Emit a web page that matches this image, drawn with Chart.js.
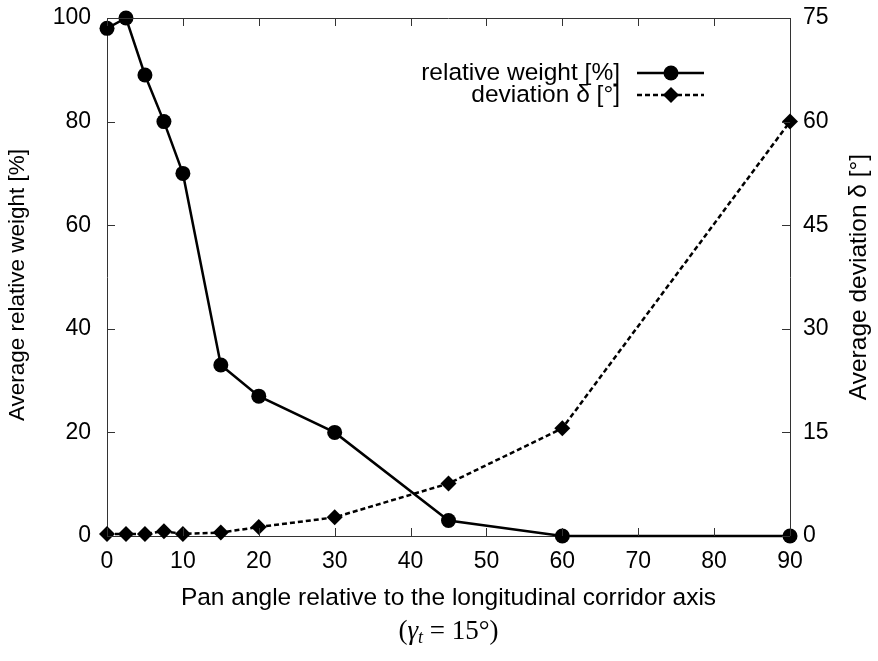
<!DOCTYPE html>
<html>
<head>
<meta charset="utf-8">
<script src="https://cdn.jsdelivr.net/npm/chart.js@4/dist/chart.umd.min.js"></script>
<style>
  html, body { margin: 0; padding: 0; background: #fff; }
  #wrap { width: 878px; height: 661px; }
</style>
</head>
<body>
<div id="wrap"><canvas id="pan-angle"></canvas></div>
<script>
const ctx = document.getElementById('pan-angle').getContext('2d')

// data
const angles = [0, 2.5, 5, 7.5, 10, 15, 20, 30, 45, 60, 90]
const weight = [98, 100, 89, 80, 70, 33, 27, 20, 3, 0, 0]
const deviation = [0.3, 0.3, 0.3, 0.7, 0.3, 0.5, 1.3, 2.7, 7.6, 15.6, 60]
const xTicks = [0, 10, 20, 30, 40, 50, 60, 70, 80, 90]
const weightTicks = [0, 20, 40, 60, 80, 100]
const deviationTicks = [0, 15, 30, 45, 60, 75]

const FONT = 'Liberation Sans, Arial, sans-serif'
const TICK_FS = 23
const TEXT_FS = 24.5
const YTITLE_FS = 22.5

const toPoints = ys => angles.map((a, i) => ({ x: a, y: ys[i] }))

// inside ticks, top border, legend and titles (gnuplot look)
const frame = {
  id: 'frame',
  afterDraw(chart) {
    const c = chart.ctx
    const { left, right, top, bottom } = chart.chartArea
    const xs = chart.scales.x
    const yl = chart.scales.y
    const yr = chart.scales.y2
    const tl = 8
    c.save()
    c.strokeStyle = '#333'
    c.lineWidth = 1
    c.beginPath()
    c.moveTo(left, top + 0.5)
    c.lineTo(right, top + 0.5)
    xTicks.forEach(v => {
      const px = Math.round(xs.getPixelForValue(v)) + 0.5
      c.moveTo(px, bottom); c.lineTo(px, bottom - tl)
      c.moveTo(px, top); c.lineTo(px, top + tl)
    })
    weightTicks.forEach(v => {
      const py = Math.round(yl.getPixelForValue(v)) + 0.5
      c.moveTo(left, py); c.lineTo(left + tl, py)
    })
    deviationTicks.forEach(v => {
      const py = Math.round(yr.getPixelForValue(v)) + 0.5
      c.moveTo(right, py); c.lineTo(right - tl, py)
    })
    c.stroke()

    c.fillStyle = '#000'
    c.font = TEXT_FS + 'px ' + FONT
    c.textBaseline = 'middle'

    // legend
    const legendRows = [
      { text: 'relative weight [%]', y: 73, dash: [], marker: 'circle' },
      { text: 'deviation δ [°]', y: 95, dash: [5, 3], marker: 'diamond' },
    ]
    legendRows.forEach(r => {
      c.textAlign = 'right'
      c.fillText(r.text, 620, r.y)
      c.beginPath()
      c.setLineDash(r.dash)
      c.lineWidth = 2.5
      c.strokeStyle = '#000'
      c.moveTo(637, r.y); c.lineTo(704, r.y)
      c.stroke()
      c.setLineDash([])
      c.beginPath()
      if (r.marker === 'circle') {
        c.arc(671, r.y, 7.5, 0, Math.PI * 2)
      } else {
        c.moveTo(671, r.y - 8); c.lineTo(679, r.y)
        c.lineTo(671, r.y + 8); c.lineTo(663, r.y)
        c.closePath()
      }
      c.fill()
    })

    // axis titles
    const midY = (top + bottom) / 2
    c.textAlign = 'center'
    c.fillText('Pan angle relative to the longitudinal corridor axis', (left + right) / 2, 598)
    c.save()
    c.translate(859, midY)
    c.rotate(-Math.PI / 2)
    c.fillText('Average deviation δ [°]', 0, 0)
    c.restore()
    c.font = YTITLE_FS + 'px ' + FONT
    c.save()
    c.translate(18, midY + 8)
    c.rotate(-Math.PI / 2)
    c.fillText('Average relative weight [%]', 0, 0)
    c.restore()

    // (γ_t = 15°) in a serif, math style
    const parts = [
      { t: '(', f: '27px Liberation Serif', dy: 0 },
      { t: 'γ', f: 'italic 27px Liberation Serif', dy: 0 },
      { t: 't', f: 'italic 18px Liberation Serif', dy: 6 },
      { t: ' = 15°)', f: '27px Liberation Serif', dy: 0 },
    ]
    let w = 0
    parts.forEach(p => { c.font = p.f; w += c.measureText(p.t).width })
    let x = (left + right) / 2 - w / 2
    c.textAlign = 'left'
    parts.forEach(p => {
      c.font = p.f
      c.fillText(p.t, x, 632 + p.dy)
      x += c.measureText(p.t).width
    })
    c.restore()
  },
}

const tickFont = { family: FONT, size: TICK_FS }

const config = {
  type: 'line',
  data: {
    datasets: [
      {
        label: 'relative weight [%]',
        data: toPoints(weight),
        yAxisID: 'y',
        borderColor: '#000',
        backgroundColor: '#000',
        borderWidth: 2.5,
        pointStyle: 'circle',
        pointRadius: 7.5,
        pointBorderWidth: 0,
        tension: 0,
        clip: false,
      },
      {
        label: 'deviation δ [°]',
        data: toPoints(deviation),
        yAxisID: 'y2',
        borderColor: '#000',
        backgroundColor: '#000',
        borderWidth: 2.5,
        borderDash: [5, 3],
        pointStyle: 'rectRot',
        pointRadius: 8,
        pointBorderWidth: 0,
        tension: 0,
        clip: false,
      },
    ],
  },
  options: {
    responsive: true,
    maintainAspectRatio: false,
    animation: false,
    layout: { padding: { top: 18, left: 0, right: 0, bottom: 0 } },
    plugins: {
      legend: { display: false },
      tooltip: { enabled: false },
    },
    scales: {
      x: {
        type: 'linear',
        min: 0,
        max: 90,
        afterFit: s => { s.height = 125; s.paddingLeft = 0; s.paddingRight = 0 },
        afterBuildTicks: s => { s.ticks = xTicks.map(v => ({ value: v })) },
        grid: { display: false, drawTicks: false },
        border: { color: '#333', width: 1 },
        ticks: { color: '#000', padding: 12, font: tickFont },
      },
      y: {
        position: 'left',
        min: 0,
        max: 100,
        afterFit: s => { s.width = 107; s.paddingTop = 0; s.paddingBottom = 0 },
        afterBuildTicks: s => { s.ticks = weightTicks.map(v => ({ value: v })) },
        grid: { display: false, drawTicks: false },
        border: { color: '#333', width: 1 },
        ticks: { color: '#000', padding: 16, font: tickFont },
      },
      y2: {
        position: 'right',
        min: 0,
        max: 75,
        afterFit: s => { s.width = 88; s.paddingTop = 0; s.paddingBottom = 0 },
        afterBuildTicks: s => { s.ticks = deviationTicks.map(v => ({ value: v })) },
        grid: { display: false, drawTicks: false },
        border: { color: '#333', width: 1 },
        ticks: { color: '#000', padding: 13, font: tickFont },
      },
    },
  },
  plugins: [frame],
}

const panChart = new Chart(ctx, config)
</script>
</body>
</html>
